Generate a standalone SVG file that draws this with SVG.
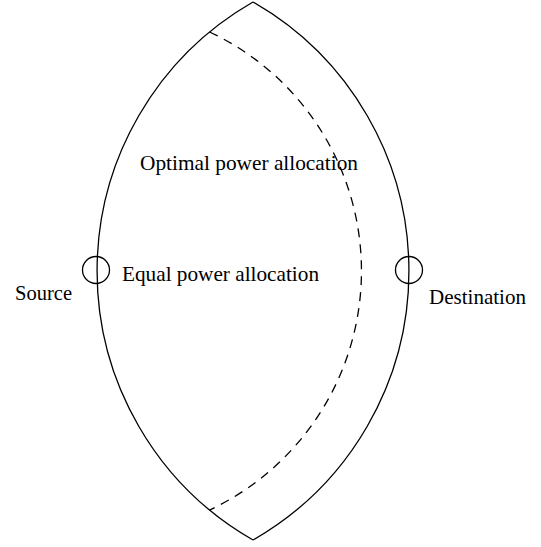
<svg xmlns="http://www.w3.org/2000/svg" width="541" height="547" viewBox="0 0 541 547">
<style>
.ln{fill:none;stroke:#000;stroke-width:1.3}
.dash{fill:none;stroke:#000;stroke-width:1.3;stroke-dasharray:9,7}
text{font-family:"Liberation Serif","Times New Roman",serif;font-size:21px;fill:#000}
</style>
<rect width="541" height="547" fill="#fff"/>
<g id="connectors">
<path id="lens-left" class="ln" d="M253,2 A310,310 0 0 0 253,540"/>
<path id="lens-right" class="ln" d="M253,2 A310,310 0 0 1 253,540"/>
<path id="optimal-arc" class="dash" d="M209.6,32 A264,264 0 0 1 209.6,510"/>
</g>
<g id="source">
<circle class="ln" cx="96" cy="270" r="13.5"/>
<text x="15" y="300" textLength="57" lengthAdjust="spacingAndGlyphs">Source</text>
</g>
<g id="destination">
<circle class="ln" cx="409" cy="270" r="13.5"/>
<text x="429" y="304" textLength="97" lengthAdjust="spacingAndGlyphs">Destination</text>
</g>
<g id="optimal-label">
<text x="140" y="170" textLength="218" lengthAdjust="spacingAndGlyphs">Optimal power allocation</text>
</g>
<g id="equal-label">
<text x="122" y="281" textLength="197" lengthAdjust="spacingAndGlyphs">Equal power allocation</text>
</g>
</svg>
